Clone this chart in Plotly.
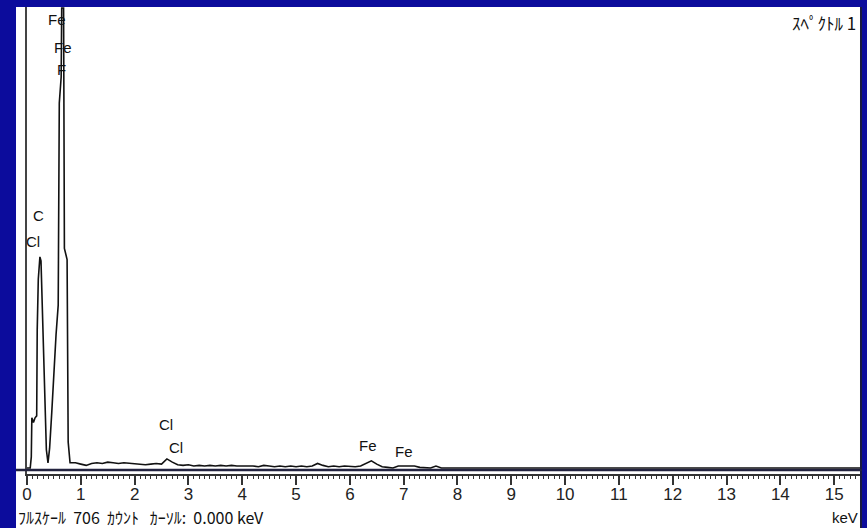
import plotly.graph_objects as go

# ---- data ----
energy_kev = [
    0.00, 0.06, 0.08, 0.09, 0.12, 0.15, 0.18, 0.19, 0.21, 0.24, 0.26, 0.28, 0.30,
    0.33, 0.36, 0.39, 0.42, 0.46, 0.50, 0.54, 0.58, 0.60, 0.635, 0.645, 0.68,
    0.695, 0.745, 0.765, 0.80,
    0.9, 1.0, 1.1, 1.2, 1.3, 1.4, 1.5, 1.6, 1.7, 1.8, 1.9, 2.0, 2.1, 2.2, 2.3,
    2.4, 2.5, 2.6, 2.7, 2.8, 2.9, 3.0, 3.1, 3.2, 3.3, 3.4, 3.5, 3.6, 3.7, 3.8,
    3.9, 4.0, 4.1, 4.2, 4.3, 4.4, 4.5, 4.6, 4.7, 4.8, 4.9, 5.0, 5.1, 5.2, 5.3,
    5.4, 5.5, 5.6, 5.7, 5.8, 5.9, 6.0, 6.1, 6.2, 6.3, 6.4, 6.5, 6.6, 6.7, 6.8,
    6.9, 7.0, 7.1, 7.2, 7.3, 7.4, 7.5, 7.6, 7.7, 15.48,
]
counts = [
    0, 0, 17, 77, 70, 77, 80, 212, 290, 324, 318, 258, 181,
    90, 28, 8, 30, 85, 150, 205, 250, 560, 600, 706, 706,
    337, 320, 40, 8,
    8, 6, 4, 7, 8, 7, 9, 8, 7, 8, 7, 6, 6, 5, 6,
    7, 6, 14, 9, 5, 4, 5, 3, 4, 3, 4, 3, 4, 3, 4,
    3, 3, 4, 3, 2, 4, 3, 2, 3, 2, 3, 2, 3, 2, 3,
    7, 4, 2, 3, 2, 3, 2, 2, 3, 7, 11, 6, 2, 1, 0,
    3, 3, 3, 3, 1, 0, 0, 3, 0, 0,
]

tick_values = list(range(0, 16))
tick_labels = [str(v) for v in tick_values]

peak_labels = ["Fe", "Fe", "F", "C", "Cl", "Cl", "Cl", "Fe", "Fe"]
peak_label_x = [0.56, 0.67, 0.64, 0.22, 0.12, 2.58, 2.77, 6.34, 7.01]
peak_label_y = [688, 645, 611, 387, 347, 67, 32, 34, 25]

full_scale = 706

BLUE = "#0c0c9c"
FONT = "Liberation Sans, Arial, sans-serif"
JFONT = "Noto Sans CJK JP, sans-serif"
SP = "\u00a0"

fig = go.Figure()
fig.add_trace(go.Scatter(
    x=energy_kev, y=counts, mode="lines",
    line=dict(color="#111111", width=1.6),
    hoverinfo="skip", showlegend=False,
))

# white panel behind the spectrum
fig.add_shape(type="rect", xref="paper", yref="paper",
              x0=-0.0132, x1=1.0024, y0=-0.12, y1=1.0,
              fillcolor="white", line=dict(width=0), layer="below")
# dark right edge of panel
fig.add_shape(type="line", xref="paper", yref="paper",
              x0=1.0012, x1=1.0012, y0=-0.12, y1=1.0,
              line=dict(color="#1a1a40", width=2))
# heavy baseline
fig.add_shape(type="line", xref="paper", yref="y",
              x0=-0.0132, x1=1.0024, y0=-3.0, y1=-3.0,
              line=dict(color="#23233f", width=2.5))

for t, x, y in zip(peak_labels, peak_label_x, peak_label_y):
    fig.add_annotation(x=x, y=y, xref="x", yref="y", text=t, showarrow=False,
                       font=dict(family=FONT, size=15, color="#111111"),
                       bgcolor="rgba(0,0,0,0)")

fig.add_annotation(x=1.0 - 0.003, y=1.0, xref="paper", yref="paper",
                   xanchor="right", yanchor="top", yshift=-1,
                   text="ｽﾍﾟｸﾄﾙ 1", showarrow=False,
                   font=dict(family=JFONT, size=17, color="#111111"))

fig.add_annotation(x=-0.0132, y=-0.0921, xref="paper", yref="paper",
                   xanchor="left", yanchor="middle",
                   text=f"ﾌﾙｽｹｰﾙ{SP*2}{full_scale}{SP*2}ｶｳﾝﾄ{SP*3}ｶｰｿﾙ:{SP*2}0.000{SP}keV",
                   showarrow=False,
                   font=dict(family=JFONT, size=16, color="#111111"))

fig.add_annotation(x=1.0, y=-0.0921, xref="paper", yref="paper",
                   xanchor="right", yanchor="middle",
                   text="keV", showarrow=False,
                   font=dict(family=FONT, size=15, color="#111111"))

fig.update_layout(
    width=867, height=528,
    margin=dict(l=27, r=7, t=7, b=54),
    paper_bgcolor=BLUE, plot_bgcolor="white",
    xaxis=dict(
        range=[0, 15.48], showgrid=False, zeroline=False,
        showline=True, linecolor="#333333", linewidth=1.5,
        ticks="outside", ticklen=9, tickwidth=1.5, tickcolor="#333333",
        tickvals=tick_values, ticktext=tick_labels,
        ticklabelstandoff=-5,
        tickfont=dict(family="Liberation Sans Narrow, Arial Narrow, " + FONT,
                      size=17, color="#222222"),
        minor=dict(dtick=0.1, ticks="outside", ticklen=3, tickwidth=1,
                   tickcolor="#333333", showgrid=False),
        fixedrange=True,
    ),
    yaxis=dict(
        range=[-9.2, 707.5], showgrid=False, zeroline=False,
        showline=True, linecolor="#444444", linewidth=1.5,
        showticklabels=False, ticks="", fixedrange=True,
    ),
)

fig.write_html("out.html")
